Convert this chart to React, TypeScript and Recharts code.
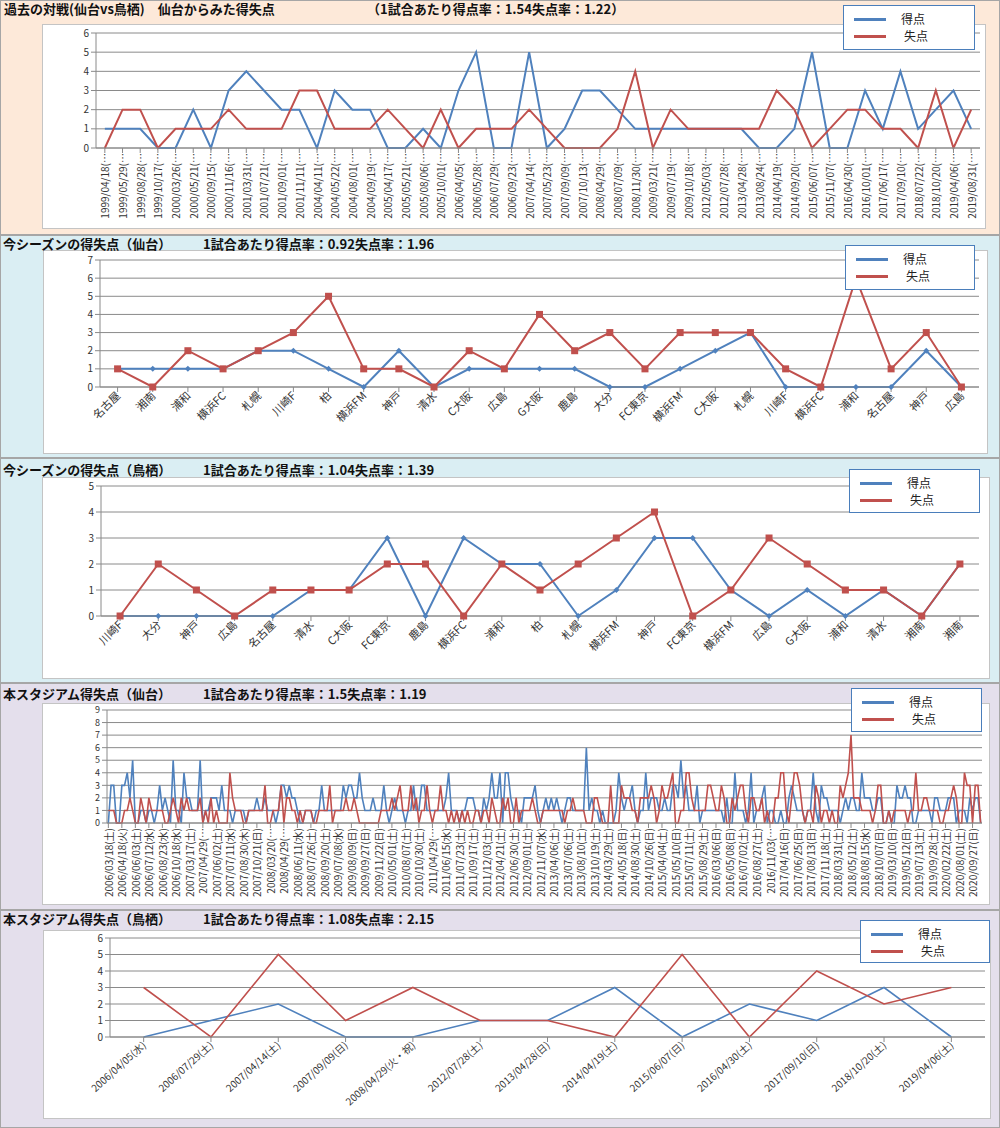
import React from "react";
import { LineChart, Line, XAxis, YAxis, CartesianGrid, Legend } from "recharts";

const BLUE = "#4F81BD";
const RED = "#C0504D";
const GRID = "#8a8a8a";
const FONT = '"Noto Sans CJK JP", "Noto Sans", sans-serif';

// 過去の対戦(仙台vs鳥栖)
const pastDates = [
  "1999/04/18", "1999/05/29", "1999/08/28", "1999/10/17", "2000/03/26", "2000/05/21", "2000/09/15",
  "2000/11/16", "2001/03/31", "2001/07/21", "2001/09/01", "2001/11/11", "2004/04/11", "2004/05/22",
  "2004/08/01", "2004/09/19", "2005/04/17", "2005/05/21", "2005/08/06", "2005/10/01", "2006/04/05",
  "2006/05/28", "2006/07/29", "2006/09/23", "2007/04/14", "2007/05/23", "2007/09/09", "2007/10/13",
  "2008/04/29", "2008/07/09", "2008/11/30", "2009/03/21", "2009/07/19", "2009/10/18", "2012/05/03",
  "2012/07/28", "2013/04/28", "2013/08/24", "2014/04/19", "2014/09/20", "2015/06/07", "2015/11/07",
  "2016/04/30", "2016/10/01", "2017/06/17", "2017/09/10", "2018/07/22", "2018/10/20", "2019/04/06",
  "2019/08/31",
];
const pastFor = [1, 1, 1, 0, 0, 2, 0, 3, 4, 3, 2, 2, 0, 3, 2, 2, 0, 0, 1, 0, 3, 5, 0, 0, 5, 0, 1, 3, 3, 2, 1, 1, 1, 1, 1, 1, 1, 0, 0, 1, 5, 0, 0, 3, 1, 4, 1, 2, 3, 1];
const pastAgainst = [0, 2, 2, 0, 1, 1, 1, 2, 1, 1, 1, 3, 3, 1, 1, 1, 2, 1, 0, 2, 0, 1, 1, 1, 2, 1, 0, 0, 0, 1, 4, 0, 2, 1, 1, 1, 1, 1, 3, 2, 0, 1, 2, 2, 1, 1, 0, 3, 0, 2];
const pastTicks = [0, 1, 2, 3, 4, 5, 6];

// 今シーズンの得失点(仙台)
const sendaiOpponents = ["名古屋", "湘南", "浦和", "横浜FC", "札幌", "川崎F", "柏", "横浜FM", "神戸", "清水", "C大阪", "広島", "G大阪", "鹿島", "大分", "FC東京", "横浜FM", "C大阪", "札幌", "川崎F", "横浜FC", "浦和", "名古屋", "神戸", "広島"];
const sendaiFor = [1, 1, 1, 1, 2, 2, 1, 0, 2, 0, 1, 1, 1, 1, 0, 0, 1, 2, 3, 0, 0, 0, 0, 2, 0];
const sendaiAgainst = [1, 0, 2, 1, 2, 3, 5, 1, 1, 0, 2, 1, 4, 2, 3, 1, 3, 3, 3, 1, 0, 6, 1, 3, 0];
const sendaiTicks = [0, 1, 2, 3, 4, 5, 6, 7];

// 今シーズンの得失点(鳥栖)
const tosuOpponents = ["川崎F", "大分", "神戸", "広島", "名古屋", "清水", "C大阪", "FC東京", "鹿島", "横浜FC", "浦和", "柏", "札幌", "横浜FM", "神戸", "FC東京", "横浜FM", "広島", "G大阪", "浦和", "清水", "湘南", "湘南"];
const tosuFor = [0, 0, 0, 0, 0, 1, 1, 3, 0, 3, 2, 2, 0, 1, 3, 3, 1, 0, 1, 0, 1, 0, 2];
const tosuAgainst = [0, 2, 1, 0, 1, 1, 1, 2, 2, 0, 2, 1, 2, 3, 4, 0, 1, 3, 2, 1, 1, 0, 2];
const tosuTicks = [0, 1, 2, 3, 4, 5];

// 本スタジアム得失点(仙台) - axis shows every 5th match
const homeTickLabels = [
  "2006/03/18(土)", "2006/04/18(火)", "2006/06/03(土)", "2006/07/12(水)", "2006/08/23(水)", "2006/10/18(水)",
  "2007/03/17(土)", "2007/04/29(…", "2007/06/02(土)", "2007/07/11(水)", "2007/08/30(木)", "2007/10/21(日)",
  "2008/03/20(…", "2008/04/29(…", "2008/06/11(水)", "2008/07/26(土)", "2008/09/20(土)",
  "2009/07/08(水)", "2009/08/09(日)", "2009/09/27(日)", "2009/11/22(日)",
  "2010/05/01(土)", "2010/08/07(土)", "2010/10/30(土)",
  "2011/04/29(…", "2011/06/15(水)", "2011/07/23(土)", "2011/09/17(土)", "2011/12/03(土)",
  "2012/04/21(土)", "2012/06/30(土)", "2012/09/01(土)", "2012/11/07(水)",
  "2013/04/06(土)", "2013/07/06(土)", "2013/08/10(土)", "2013/10/19(土)",
  "2014/03/29(土)", "2014/05/18(日)", "2014/08/30(土)", "2014/10/26(日)",
  "2015/04/04(土)", "2015/05/10(日)", "2015/07/11(土)", "2015/08/29(土)",
  "2016/03/06(日)", "2016/05/08(日)", "2016/07/02(土)", "2016/08/27(土)", "2016/11/03(…",
  "2017/04/16(日)", "2017/06/25(日)", "2017/08/13(日)", "2017/11/18(土)",
  "2018/03/31(土)", "2018/05/12(土)", "2018/08/15(水)", "2018/10/07(日)",
  "2019/03/10(日)", "2019/05/12(日)", "2019/07/13(土)", "2019/09/28(土)",
  "2020/02/22(土)", "2020/08/01(土)", "2020/09/27(日)",
];
const homeFor = [
  0, 3, 3, 0, 0, 3, 3, 4, 2, 5, 0, 0, 1, 1, 0, 1, 1, 0, 1, 3,
  1, 2, 1, 0, 5, 1, 1, 0, 4, 2, 2, 1, 1, 1, 5, 0, 1, 1, 2, 2,
  2, 1, 3, 1, 1, 1, 0, 1, 1, 1, 1, 0, 1, 1, 1, 2, 1, 1, 2, 1,
  1, 1, 0, 1, 3, 3, 2, 3, 2, 2, 1, 0, 0, 1, 1, 1, 0, 1, 1, 3,
  1, 1, 1, 1, 1, 1, 1, 3, 2, 3, 3, 2, 2, 4, 2, 1, 1, 1, 2, 1,
  1, 1, 3, 1, 0, 1, 2, 1, 1, 1, 0, 1, 1, 3, 1, 1, 3, 3, 1, 1,
  1, 1, 1, 1, 1, 2, 4, 1, 1, 1, 0, 1, 1, 2, 2, 2, 1, 1, 0, 2,
  1, 2, 4, 2, 2, 4, 0, 4, 4, 2, 1, 1, 1, 0, 2, 2, 2, 2, 3, 1,
  0, 1, 2, 1, 2, 1, 2, 1, 0, 1, 2, 2, 1, 1, 1, 1, 1, 6, 1, 2,
  1, 1, 0, 1, 0, 0, 0, 0, 1, 4, 2, 1, 2, 2, 3, 1, 0, 1, 1, 4,
  1, 2, 2, 2, 1, 1, 2, 1, 1, 3, 3, 2, 5, 2, 3, 1, 1, 1, 3, 0,
  1, 1, 1, 1, 1, 1, 1, 1, 0, 2, 0, 0, 4, 1, 1, 1, 0, 1, 4, 0,
  1, 1, 2, 3, 0, 1, 1, 0, 0, 1, 0, 0, 2, 3, 2, 1, 1, 1, 0, 1,
  1, 4, 1, 0, 3, 2, 2, 1, 1, 1, 1, 0, 1, 2, 1, 2, 2, 1, 1, 4,
  2, 2, 2, 1, 1, 2, 2, 0, 0, 1, 0, 0, 3, 2, 2, 3, 2, 2, 0, 0,
  1, 1, 1, 1, 1, 0, 2, 2, 1, 1, 1, 2, 2, 2, 0, 1, 1, 1, 0, 2,
  1, 2, 2, 0,
];
const homeAgainst = [
  1, 1, 1, 0, 0, 0, 1, 1, 2, 1, 0, 0, 2, 1, 0, 2, 1, 1, 1, 1,
  1, 0, 0, 1, 2, 1, 0, 2, 1, 2, 1, 1, 1, 1, 2, 0, 1, 0, 2, 0,
  1, 0, 0, 0, 0, 4, 2, 1, 1, 1, 0, 0, 1, 1, 1, 1, 1, 1, 3, 0,
  0, 1, 1, 1, 3, 0, 2, 2, 1, 1, 0, 1, 0, 1, 1, 1, 0, 0, 1, 1,
  1, 1, 3, 0, 1, 1, 1, 1, 2, 1, 1, 2, 1, 0, 0, 0, 0, 0, 0, 0,
  0, 1, 1, 1, 1, 2, 1, 2, 3, 1, 1, 1, 3, 1, 2, 0, 1, 1, 3, 1,
  0, 1, 1, 3, 1, 1, 0, 1, 0, 1, 0, 1, 0, 1, 0, 0, 1, 1, 0, 1,
  1, 0, 2, 1, 0, 0, 2, 1, 2, 0, 0, 2, 0, 1, 1, 1, 1, 2, 1, 0,
  0, 1, 1, 1, 1, 1, 1, 1, 1, 0, 1, 1, 2, 1, 1, 1, 1, 0, 0, 0,
  2, 2, 1, 0, 0, 0, 3, 0, 0, 0, 3, 2, 2, 2, 1, 1, 0, 2, 2, 2,
  2, 3, 2, 0, 1, 3, 2, 2, 3, 4, 0, 0, 1, 1, 4, 4, 2, 1, 1, 1,
  1, 1, 3, 3, 2, 1, 1, 3, 2, 0, 0, 2, 1, 2, 3, 3, 1, 0, 2, 2,
  1, 1, 2, 0, 1, 0, 0, 2, 2, 4, 4, 1, 0, 2, 4, 4, 3, 1, 0, 1,
  1, 0, 3, 2, 0, 1, 1, 0, 1, 0, 0, 3, 2, 3, 4, 7, 2, 2, 2, 1,
  1, 1, 1, 0, 1, 3, 3, 0, 0, 1, 0, 1, 1, 1, 1, 1, 0, 1, 1, 4,
  1, 1, 2, 2, 1, 1, 1, 1, 0, 0, 1, 1, 2, 3, 2, 0, 0, 4, 3, 3,
  0, 3, 3, 0,
];
const homeTicks = [0, 1, 2, 3, 4, 5, 6, 7, 8, 9];

// 本スタジアム得失点(鳥栖)
const visitDates = ["2006/04/05(水)", "2006/07/29(土)", "2007/04/14(土)", "2007/09/09(日)", "2008/04/29(火・祝)", "2012/07/28(土)", "2013/04/28(日)", "2014/04/19(土)", "2015/06/07(日)", "2016/04/30(土)", "2017/09/10(日)", "2018/10/20(土)", "2019/04/06(土)"];
const visitFor = [0, 1, 2, 0, 0, 1, 1, 3, 0, 2, 1, 3, 0];
const visitAgainst = [3, 0, 5, 1, 3, 1, 1, 0, 5, 0, 4, 2, 3];
const visitTicks = [0, 1, 2, 3, 4, 5, 6];

type Row = { key: string | number; score: number; concede: number };
const makeRows = (keys: (string | number)[], f: number[], a: number[]): Row[] =>
  keys.map((k, i) => ({ key: k, score: f[i], concede: a[i] }));

const pastRows = makeRows(pastDates, pastFor, pastAgainst);
const sendaiRows = makeRows(sendaiOpponents, sendaiFor, sendaiAgainst);
const tosuRows = makeRows(tosuOpponents, tosuFor, tosuAgainst);
const homeRows = makeRows(homeFor.map((_, i) => i), homeFor, homeAgainst);
const visitRows = makeRows(visitDates, visitFor, visitAgainst);

const SlantTick = (props: any) => {
  const { x, y, payload, angle, size, dy, format } = props;
  const text = format ? format(payload.value) : payload.value;
  return (
    <g transform={`translate(${x},${y + dy})`}>
      <text transform={`rotate(${angle})`} textAnchor="end" dominantBaseline="central"
        fontSize={size} fill="#333" fontFamily={FONT}>
        {text}
      </text>
    </g>
  );
};

const Diamond = (props: any) => {
  const { cx, cy, index } = props;
  if (cx == null || cy == null) return <g key={index} />;
  return <path key={index} d={`M${cx},${cy - 3}L${cx + 3},${cy}L${cx},${cy + 3}L${cx - 3},${cy}Z`} fill={BLUE} />;
};

const Square = (props: any) => {
  const { cx, cy, index } = props;
  if (cx == null || cy == null) return <g key={index} />;
  return <rect key={index} x={cx - 3.5} y={cy - 3.5} width={7} height={7} fill={RED} />;
};

const rank = (it: any) => (it.dataKey === "score" ? 0 : 1);

const LegendBox = (props: any) => {
  const items = [...(props.payload || [])].sort((a, b) => rank(a) - rank(b));
  return (
    <div style={{
      width: "100%", height: "100%", boxSizing: "border-box", background: "#fff",
      border: "1.5px solid #4A7EBB", fontFamily: FONT, fontSize: 12, color: "#222",
      paddingTop: 5,
    }}>
      {items.map((it: any, i: number) => (
        <div key={i} style={{ position: "relative", height: 17 }}>
          <div style={{ position: "absolute", left: 10, top: 7, width: 32, height: 3, background: it.color }} />
          <span style={{ position: "absolute", left: 57 + i * 3, top: 1, lineHeight: "13px", height: 13 }}>{it.value}</span>
        </div>
      ))}
    </div>
  );
};

type ChartProps = {
  top: number;
  height: number;
  rows: Row[];
  plot: { left: number; right: number; top: number; bottom: number };
  yTicks: number[];
  ySize?: number;
  angle: number;
  labelSize: number;
  labelDy: number;
  format?: (v: any) => string;
  interval?: number;
  markers?: boolean;
  lineWidth: number;
  legend: { left: number; top: number; width: number; height: number };
};

function ScoreChart(p: ChartProps) {
  const { plot } = p;
  // Excel puts each category in the middle of its slot
  const pad = (plot.right - plot.left) / (2 * p.rows.length);
  return (
    <div style={{ position: "absolute", left: 0, top: p.top }}>
      <LineChart width={1000} height={p.height} data={p.rows}
        margin={{ top: plot.top - p.top, right: 1000 - plot.right, bottom: 0, left: 0 }}>
        <CartesianGrid vertical={false} stroke={GRID} />
        <XAxis dataKey="key" interval={p.interval ?? 0} height={p.top + p.height - plot.bottom}
          padding={{ left: pad, right: pad }} stroke={GRID} tickSize={5}
          tick={(t: any) => <SlantTick {...t} angle={p.angle} size={p.labelSize} dy={p.labelDy} format={p.format} />} />
        <YAxis width={plot.left} domain={[0, p.yTicks[p.yTicks.length - 1]]} ticks={p.yTicks} interval={0}
          stroke={GRID} tickSize={5} tick={{ fontSize: p.ySize ?? 10, fill: "#333", fontFamily: FONT }} />
        <Legend layout="vertical" align="center" verticalAlign="middle" content={LegendBox}
          wrapperStyle={{ left: p.legend.left, top: p.legend.top - p.top, width: p.legend.width, height: p.legend.height }} />
        <Line type="linear" dataKey="score" name="得点" stroke={BLUE} strokeWidth={p.lineWidth}
          dot={p.markers ? Diamond : false} activeDot={false} isAnimationActive={false} />
        <Line type="linear" dataKey="concede" name="失点" stroke={RED} strokeWidth={p.lineWidth}
          dot={p.markers ? Square : false} activeDot={false} isAnimationActive={false} />
      </LineChart>
    </div>
  );
}

const panelStyle = (top: number, height: number, bg: string): React.CSSProperties => ({
  position: "absolute", left: 0, top, width: 1000, height, boxSizing: "border-box",
  background: bg, border: "1px solid #a6a6a6",
});

const boxStyle = (l: number, t: number, r: number, b: number): React.CSSProperties => ({
  position: "absolute", left: l, top: t, width: r - l, height: b - t, boxSizing: "border-box",
  background: "#fff", border: "1px solid #c4c4c4",
});

const Title = ({ y, left, text }: { y: number; left: number; text: string }) => (
  <div style={{
    position: "absolute", left, top: y - 8, fontFamily: FONT, fontSize: 13, fontWeight: 700,
    color: "#111", whiteSpace: "nowrap", lineHeight: "14px", height: 14,
  }}>{text}</div>
);

export default function App() {
  return (
    <div style={{ position: "relative", width: 1000, height: 1128, overflow: "hidden" }}>
      <style>{"body{margin:0}"}</style>
      <div style={panelStyle(0, 235, "#FDE9D9")} />
      <div style={panelStyle(235, 223, "#DAEEF3")} />
      <div style={panelStyle(458, 225, "#DAEEF3")} />
      <div style={panelStyle(683, 227, "#E4DFEC")} />
      <div style={panelStyle(910, 218, "#E4DFEC")} />

      <div style={boxStyle(42, 24, 986, 229)} />
      <div style={boxStyle(43, 250, 988, 454)} />
      <div style={boxStyle(42, 477, 990, 679)} />
      <div style={boxStyle(42, 703, 990, 905)} />
      <div style={boxStyle(43, 930, 991, 1119)} />

      <Title y={10} left={4} text="過去の対戦(仙台vs鳥栖)　仙台からみた得失点" />
      <Title y={10} left={367} text="（1試合あたり得点率：1.54失点率：1.22）" />
      <Title y={245} left={3} text="今シーズンの得失点（仙台）" />
      <Title y={245} left={203} text="1試合あたり得点率：0.92失点率：1.96" />
      <Title y={471} left={3} text="今シーズンの得失点（鳥栖）" />
      <Title y={471} left={203} text="1試合あたり得点率：1.04失点率：1.39" />
      <Title y={695} left={3} text="本スタジアム得失点（仙台）" />
      <Title y={695} left={203} text="1試合あたり得点率：1.5失点率：1.19" />
      <Title y={920} left={3} text="本スタジアム得失点（鳥栖）" />
      <Title y={920} left={203} text="1試合あたり得点率：1.08失点率：2.15" />

      <ScoreChart top={0} height={235} rows={pastRows} yTicks={pastTicks}
        plot={{ left: 96, right: 980, top: 33, bottom: 148 }}
        angle={-90} labelSize={10} labelDy={-2} format={(v) => `${v}(…`} lineWidth={2}
        legend={{ left: 843, top: 5, width: 132, height: 45 }} />
      <ScoreChart top={235} height={223} rows={sendaiRows} yTicks={sendaiTicks}
        plot={{ left: 100, right: 979, top: 260, bottom: 387 }}
        angle={-45} labelSize={11} labelDy={-1} markers lineWidth={2}
        legend={{ left: 845, top: 245, width: 130, height: 45 }} />
      <ScoreChart top={458} height={225} rows={tosuRows} yTicks={tosuTicks}
        plot={{ left: 101, right: 979, top: 486, bottom: 616 }}
        angle={-45} labelSize={11} labelDy={-1} markers lineWidth={2}
        legend={{ left: 849, top: 469, width: 131, height: 44 }} />
      <ScoreChart top={683} height={227} rows={homeRows} yTicks={homeTicks} ySize={9}
        plot={{ left: 107, right: 982, top: 710, bottom: 823 }}
        angle={-90} labelSize={10} labelDy={-2} interval={4}
        format={(v) => homeTickLabels[Math.round(Number(v) / 5)] ?? ""} lineWidth={1.6}
        legend={{ left: 851, top: 688, width: 131, height: 44 }} />
      <ScoreChart top={910} height={218} rows={visitRows} yTicks={visitTicks}
        plot={{ left: 110, right: 985, top: 938, bottom: 1037 }}
        angle={-42} labelSize={10} labelDy={-1} lineWidth={1.6}
        legend={{ left: 860, top: 920, width: 130, height: 43 }} />
    </div>
  );
}
